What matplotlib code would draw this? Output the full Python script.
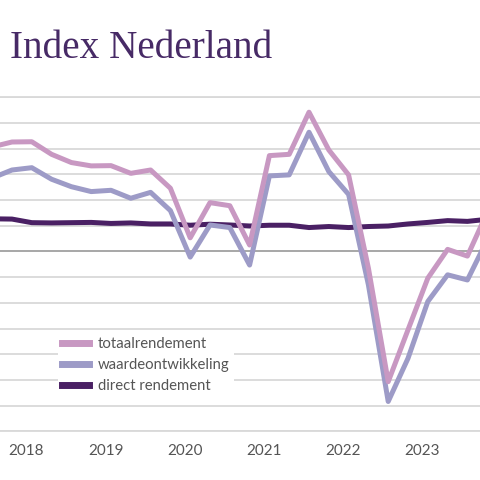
import matplotlib

matplotlib.use("Agg")
import matplotlib.pyplot as plt
import numpy as np

# quarterly returns (%), Q4 2017 .. Q1 2024
quarters = ["2017-K4"] + [f"{y}-K{q}" for y in range(2018, 2024) for q in range(1, 5)] + ["2024-K1"]

totaalrendement = [4.07, 4.26, 4.27, 3.78, 3.46, 3.33, 3.34, 3.04, 3.17, 2.46,
                   0.53, 1.90, 1.78, 0.25, 3.73, 3.78, 5.42, 3.95, 2.98, -0.65,
                   -5.07, -3.05, -1.04, 0.08, -0.18, 1.52]
waardeontwikkeling = [2.86, 3.17, 3.26, 2.81, 2.52, 2.33, 2.38, 2.07, 2.30, 1.59,
                      -0.22, 1.03, 0.93, -0.53, 2.94, 2.98, 4.64, 3.11, 2.22, -1.30,
                      -5.84, -4.16, -1.95, -0.91, -1.11, 0.45]
direct_rendement = [1.27, 1.26, 1.12, 1.11, 1.12, 1.13, 1.09, 1.11, 1.07, 1.07,
                    1.02, 1.06, 1.03, 0.99, 1.02, 1.02, 0.93, 0.97, 0.93, 0.97,
                    0.99, 1.07, 1.13, 1.20, 1.17, 1.25]

years = [2018, 2019, 2020, 2021, 2022, 2023]

C_TOT = "#c898c2"
C_WAARDE = "#9d9bc7"
C_DIRECT = "#4a2064"
GREY_TXT = "#555555"
GRID = "#d9d9d9"

plt.rcParams["font.family"] = ["Lato", "DejaVu Sans"]

fig = plt.figure(figsize=(4.8, 4.8), dpi=100)
ax = fig.add_axes([0.0, 0.1015, 1.0, 0.6958])

x = np.arange(len(quarters)) - 1  # first point sits left of the visible area

ax.plot(x, direct_rendement, color=C_DIRECT, lw=3.6, label="direct rendement", zorder=3)
ax.plot(x, waardeontwikkeling, color=C_WAARDE, lw=3.6, label="waardeontwikkeling", zorder=4)
ax.plot(x, totaalrendement, color=C_TOT, lw=3.6, label="totaalrendement", zorder=5)

ax.set_xlim(-0.606, 23.636)
ax.set_ylim(-7, 6)

ax.set_yticks(np.arange(-7, 7))
ax.yaxis.grid(True, color=GRID, lw=1.3)
ax.axhline(-7, color=GRID, lw=1.3, clip_on=False, zorder=1)
ax.axhline(6, color=GRID, lw=1.3, clip_on=False, zorder=1)
ax.axhline(0, color="#a8a8a8", lw=1.4, zorder=1)
ax.set_axisbelow(True)
ax.tick_params(axis="y", left=False, labelleft=False)

ax.set_xticks([4 * i + 0.73 for i in range(len(years))])
ax.set_xticklabels([str(y) for y in years], fontsize=11, color=GREY_TXT)
ax.tick_params(axis="x", length=0, pad=9)

for s in ax.spines.values():
    s.set_visible(False)

handles, labels = ax.get_legend_handles_labels()
leg = ax.legend(handles[::-1], labels[::-1], loc="upper left",
                bbox_to_anchor=(58 / 480, 1 - 333 / 480), bbox_transform=fig.transFigure,
                fontsize=10.7, frameon=True, facecolor="white", edgecolor="none",
                framealpha=1, fancybox=False, borderpad=0.25, borderaxespad=0,
                handlelength=1.85, handletextpad=0.6, labelspacing=0.48)
leg.set_zorder(6)
for t in leg.get_texts():
    t.set_color(GREY_TXT)
for h in leg.legend_handles:
    h.set_linewidth(5)

fig.text(10 / 480, 1 - 58.3 / 480, "Index Nederland", fontsize=28.3,
         family="Liberation Serif", color="#472a66", va="baseline")

fig.savefig("out.png", dpi=100, facecolor="white")
